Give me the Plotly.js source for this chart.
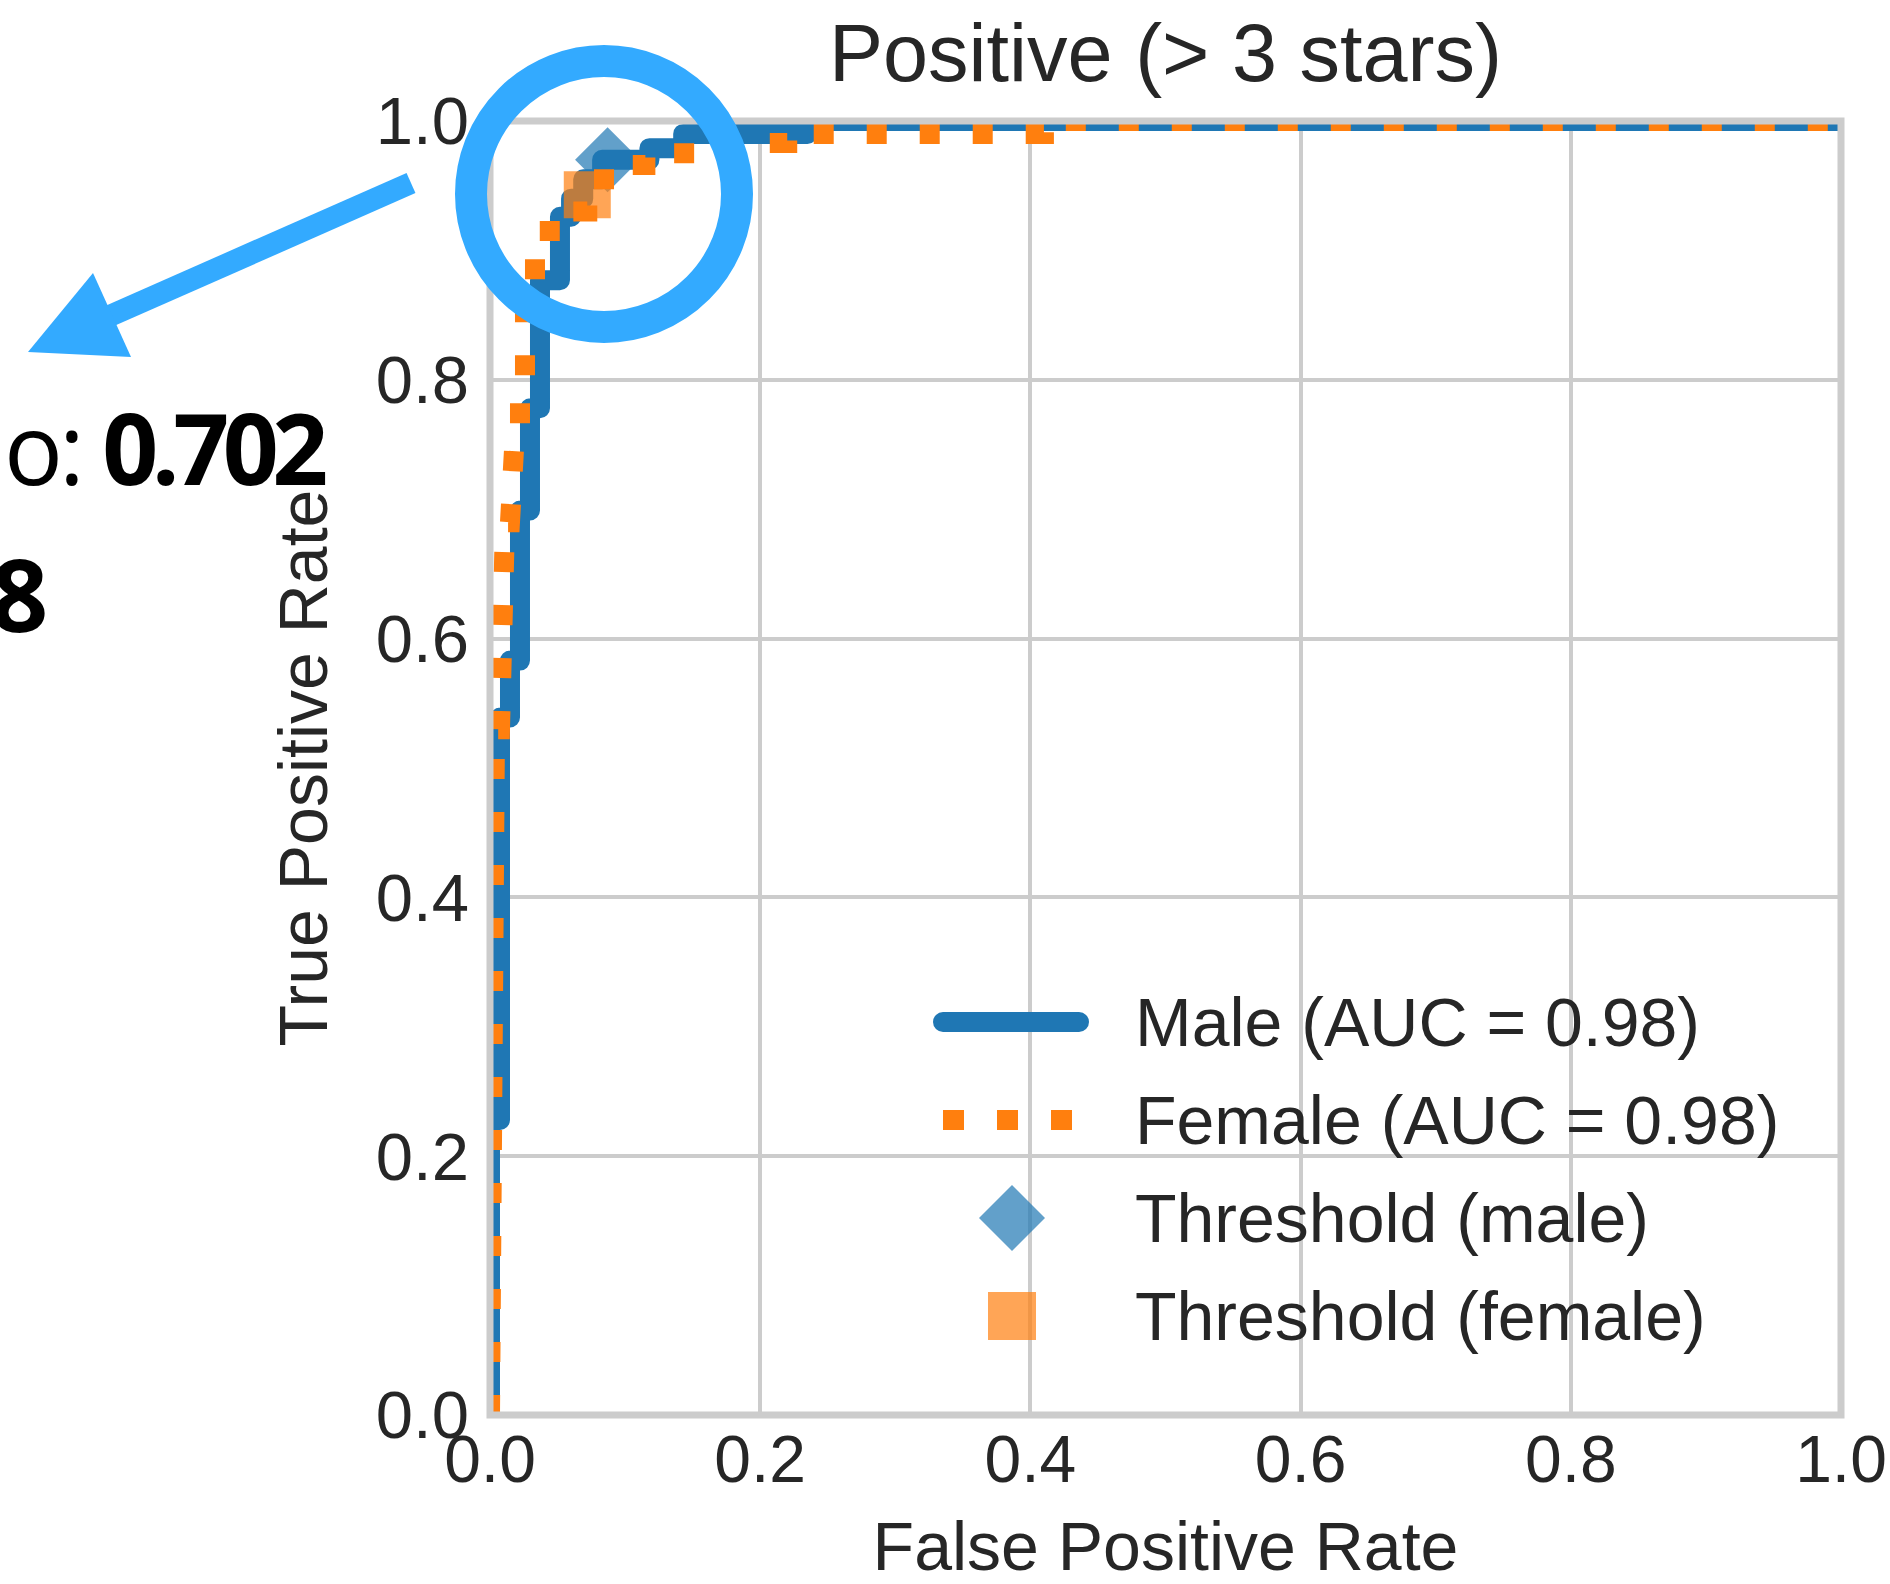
<!DOCTYPE html>
<html><head><meta charset="utf-8">
<script src="https://cdn.plot.ly/plotly-3.0.1.min.js"></script>
<style>
html,body{margin:0;padding:0;background:#fff;}
#chart{width:1890px;height:1584px;}
.scatterlayer .trace:first-child .js-line{stroke-linejoin:round;stroke-linecap:round;}
.shapelayer path[data-index="1"]{stroke-linecap:round;}
</style></head><body><div id="chart"></div>
<script>
// ---- data ----
const maleFpr = [0, 0, 0.0074, 0.0074, 0.0148, 0.0148, 0.0222, 0.0222, 0.0296, 0.0296, 0.0370, 0.0370, 0.0518, 0.0518, 0.0600, 0.0600, 0.0690, 0.0690, 0.0830, 0.0830, 0.118, 0.118, 0.143, 0.143, 0.235, 0.235, 1.0];
const maleTpr = [0, 0.228, 0.228, 0.539, 0.539, 0.583, 0.583, 0.699, 0.699, 0.778, 0.778, 0.877, 0.877, 0.926, 0.926, 0.940, 0.940, 0.955, 0.955, 0.970, 0.970, 0.979, 0.979, 0.990, 0.990, 1.0, 1.0];
const femaleFpr = [0, 0, 0.0037, 0.0037, 0.0074, 0.0074, 0.0111, 0.0111, 0.0148, 0.0148, 0.0185, 0.0185, 0.0222, 0.0222, 0.0259, 0.0259, 0.0333, 0.0333, 0.0520, 0.0520, 0.0720, 0.0720, 0.0920, 0.0920, 0.115, 0.115, 0.155, 0.155, 0.220, 0.220, 0.410, 0.410, 1.0];
const femaleTpr = [0, 0.390, 0.390, 0.530, 0.530, 0.620, 0.620, 0.690, 0.690, 0.730, 0.730, 0.760, 0.760, 0.800, 0.800, 0.860, 0.860, 0.915, 0.915, 0.930, 0.930, 0.955, 0.955, 0.966, 0.966, 0.975, 0.975, 0.983, 0.983, 0.990, 0.990, 1.0, 1.0];
const thrMaleFpr = [0.087];
const thrMaleTpr = [0.970];
const thrFemaleFpr = [0.072];
const thrFemaleTpr = [0.943];
const seriesNames = ['Male (AUC = 0.98)', 'Female (AUC = 0.98)', 'Threshold (male)', 'Threshold (female)'];
const tickVals = [0, 0.2, 0.4, 0.6, 0.8, 1.0];
const tickLabels = ['0.0', '0.2', '0.4', '0.6', '0.8', '1.0'];
const chartTitle = 'Positive (> 3 stars)';
const xTitle = 'False Positive Rate';
const yTitle = 'True Positive Rate';
const notePrefix = 'o: ';
const noteValue = '0.702';
const noteLine2 = '8';

// ---- geometry helpers (pixel -> paper) ----
const W = 1890, H = 1584;
const PL = 490, PR = 1841, PT = 121, PB = 1415;
const X = px => (px - PL) / (PR - PL);
const Y = py => (PB - py) / (PB - PT);

const BLUE = '#1f77b4', ORANGE = '#ff7f0e', HL = '#33aaff', TXT = '#262626';
const FONT = 'Liberation Sans, Arial, Helvetica, sans-serif';
const NOTEFONT = 'Open Sans, Noto Sans, sans-serif';

const traces = [
  {x: maleFpr, y: maleTpr, name: seriesNames[0], type: 'scatter', mode: 'lines',
   line: {color: BLUE, width: 20}, hoverinfo: 'skip'},
  {x: thrMaleFpr, y: thrMaleTpr, name: seriesNames[2], type: 'scatter', mode: 'markers',
   marker: {symbol: 'diamond', size: 50, color: 'rgba(31,119,180,0.7)', line: {width: 0}}, hoverinfo: 'skip'},
  {x: thrFemaleFpr, y: thrFemaleTpr, name: seriesNames[3], type: 'scatter', mode: 'markers',
   marker: {symbol: 'square', size: 47, color: 'rgba(255,127,14,0.7)', line: {width: 0}}, hoverinfo: 'skip'},
  {x: femaleFpr, y: femaleTpr, name: seriesNames[1], type: 'scatter', mode: 'lines',
   line: {color: ORANGE, width: 20, dash: '20px,33px'}, hoverinfo: 'skip'}
];

// legend rows (pixel centres)
const rowY = [1022, 1120, 1218, 1316];
const shapes = [
  // spines
  {type: 'rect', xref: 'paper', yref: 'paper', x0: 0, x1: 1, y0: 0, y1: 1,
   line: {color: '#cccccc', width: 7}, fillcolor: 'rgba(0,0,0,0)', layer: 'above'},
  // legend symbols
  {type: 'line', xref: 'paper', yref: 'paper', x0: X(943), x1: X(1079), y0: Y(rowY[0]), y1: Y(rowY[0]),
   line: {color: BLUE, width: 20}, layer: 'above'},
  {type: 'line', xref: 'paper', yref: 'paper', x0: X(943), x1: X(1073), y0: Y(rowY[1]), y1: Y(rowY[1]),
   line: {color: ORANGE, width: 20, dash: '21px,33px'}, layer: 'above'},
  {type: 'path', xref: 'paper', yref: 'paper', layer: 'above',
   path: `M${X(979)},${Y(rowY[2])} L${X(1012)},${Y(rowY[2]-33)} L${X(1045)},${Y(rowY[2])} L${X(1012)},${Y(rowY[2]+33)} Z`,
   fillcolor: 'rgba(31,119,180,0.7)', line: {width: 0}},
  {type: 'rect', xref: 'paper', yref: 'paper', layer: 'above',
   x0: X(988), x1: X(1036), y0: Y(rowY[3]+24), y1: Y(rowY[3]-24),
   fillcolor: 'rgba(255,127,14,0.7)', line: {width: 0}},
  // highlight ring
  {type: 'circle', xref: 'paper', yref: 'paper', layer: 'above',
   x0: X(604-133), x1: X(604+133), y0: Y(194+133), y1: Y(194-133),
   line: {color: HL, width: 32}, fillcolor: 'rgba(0,0,0,0)'},
  // arrow shaft
  {type: 'line', xref: 'paper', yref: 'paper', layer: 'above',
   x0: X(411), y0: Y(183), x1: X(105), y1: Y(318), line: {color: HL, width: 22}},
  // arrow head
  {type: 'path', xref: 'paper', yref: 'paper', layer: 'above',
   path: `M${X(28)},${Y(352)} L${X(93)},${Y(273)} L${X(131)},${Y(357)} Z`,
   fillcolor: HL, line: {width: 0}}
];

const annotations = [];
seriesNames.forEach((n, i) => {
  annotations.push({xref: 'paper', yref: 'paper', x: X(1133), y: Y(rowY[i]), xanchor: 'left', yanchor: 'middle',
    text: n, showarrow: false, font: {family: FONT, size: 68, color: TXT}});
});
annotations.push({xref: 'paper', yref: 'paper', x: X(2), y: Y(447), xanchor: 'left', yanchor: 'middle',
  text: '<span style="letter-spacing:-4px">' + notePrefix + '</span><span style="font-weight:bold;letter-spacing:-6.5px">' + noteValue + '</span>',
  showarrow: false, font: {family: NOTEFONT, size: 98, color: '#000'}});
annotations.push({xref: 'paper', yref: 'paper', x: X(50), y: Y(593), xanchor: 'right', yanchor: 'middle',
  text: '<b>' + noteLine2 + '</b>', showarrow: false, font: {family: NOTEFONT, size: 100, color: '#000'}});

const axisCommon = {
  range: [0, 1], tickmode: 'array', tickvals: tickVals, ticktext: tickLabels,
  showgrid: true, gridcolor: '#cccccc', gridwidth: 4, zeroline: false, showline: false,
  ticks: '', fixedrange: true, automargin: false
};

const layout = {
  width: W, height: H,
  margin: {l: PL, r: W - PR, t: PT, b: H - PB, pad: 0},
  paper_bgcolor: '#ffffff', plot_bgcolor: '#ffffff',
  showlegend: false,
  font: {family: FONT, color: TXT},
  title: {text: chartTitle, font: {family: FONT, size: 81, color: TXT},
          x: 0.5, xref: 'paper', xanchor: 'center', y: 1 - 53 / H, yref: 'container', yanchor: 'middle'},
  xaxis: Object.assign({}, axisCommon, {tickfont: {family: FONT, size: 66, color: TXT},
          title: {text: xTitle, font: {family: FONT, size: 68, color: TXT}, standoff: 34}}),
  yaxis: Object.assign({}, axisCommon, {tickfont: {family: FONT, size: 67, color: TXT}, ticklabelstandoff: 20,
          title: {text: yTitle, font: {family: FONT, size: 68, color: TXT}, standoff: 26}}),
  shapes: shapes,
  annotations: annotations
};

Plotly.newPlot('chart', traces, layout, {displayModeBar: false, staticPlot: true});
</script></body></html>
